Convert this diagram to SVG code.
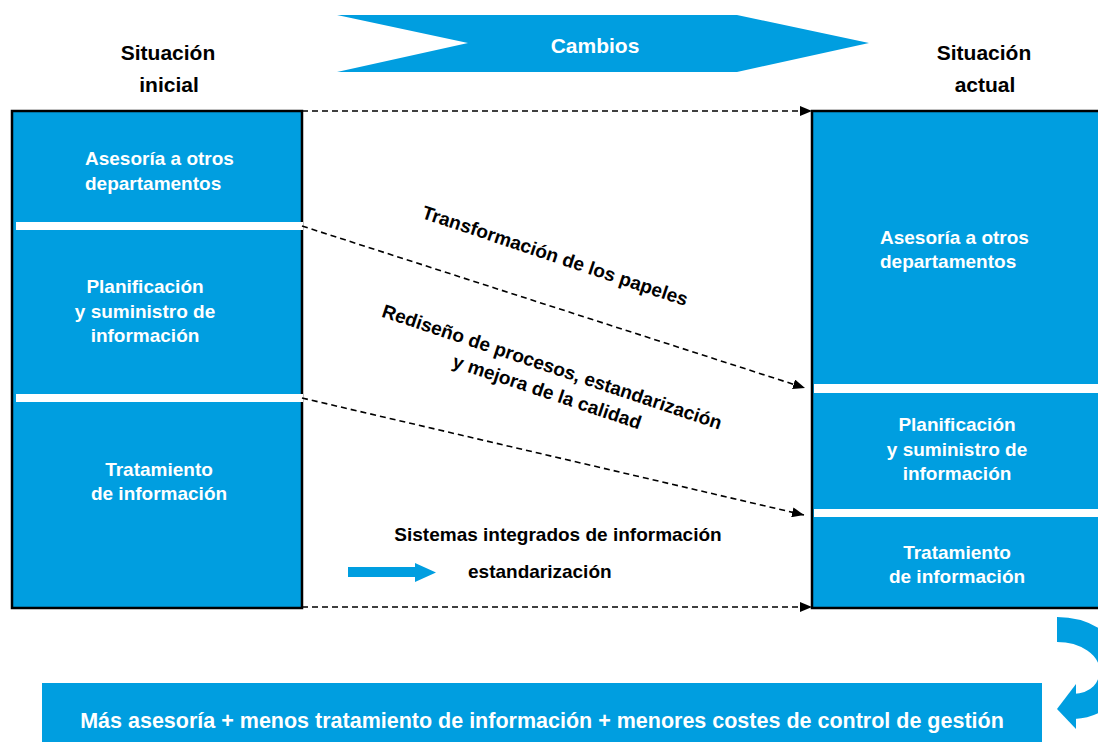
<svg xmlns="http://www.w3.org/2000/svg" width="1098" height="742" viewBox="0 0 1098 742">
<defs>
<style>
text{font-family:"Liberation Sans",Arial,sans-serif;font-weight:bold;}
.w{fill:#ffffff;font-size:19px;}
.k{fill:#000000;font-size:19px;}
.h{fill:#000000;font-size:21px;text-anchor:middle;}
.c{text-anchor:middle;}
.box{fill:#009EE0;stroke:#000000;stroke-width:2.5;}
.sep{fill:#ffffff;}
.dash{fill:none;stroke:#000000;stroke-width:1.6;stroke-dasharray:6 4;marker-end:url(#ah);}
.blue{fill:#009EE0;}
</style>
<marker id="ah" viewBox="0 0 12 10" refX="12" refY="5" markerWidth="12" markerHeight="10" markerUnits="userSpaceOnUse" orient="auto">
<path d="M0,0 L12,5 L0,10 Z" fill="#000000"/>
</marker>
</defs>
<rect width="1098" height="742" fill="#ffffff"/>

<g id="cambios">
<polygon class="blue" points="337,15 737,15 869,43 737,72 337,72 468,43"/>
<text x="595" y="53" class="c" style="fill:#ffffff;font-size:21px;">Cambios</text>
</g>

<g id="titulo-inicial">
<text class="h" x="168" y="60">Situación</text>
<text class="h" x="169" y="92">inicial</text>
</g>
<g id="titulo-actual">
<text class="h" x="984" y="60">Situación</text>
<text class="h" x="985" y="92">actual</text>
</g>

<g id="situacion-inicial">
<rect class="box" x="12" y="111" width="290" height="497"/>
<rect class="sep" x="16" y="222" width="287" height="8"/>
<rect class="sep" x="16" y="394" width="287" height="8"/>
<text class="w" x="85" y="165">Asesoría a otros</text>
<text class="w" x="85" y="190">departamentos</text>
<text class="w c" x="145" y="293">Planificación</text>
<text class="w c" x="145" y="318">y suministro de</text>
<text class="w c" x="145" y="342">información</text>
<text class="w c" x="159" y="476">Tratamiento</text>
<text class="w c" x="159" y="500">de información</text>
</g>

<g id="situacion-actual">
<rect class="box" x="812" y="111" width="300" height="497"/>
<rect class="sep" x="814" y="384" width="290" height="9"/>
<rect class="sep" x="814" y="509" width="290" height="8"/>
<text class="w" x="880" y="244">Asesoría a otros</text>
<text class="w" x="880" y="268">departamentos</text>
<text class="w c" x="957" y="431">Planificación</text>
<text class="w c" x="957" y="456">y suministro de</text>
<text class="w c" x="957" y="480">información</text>
<text class="w c" x="957" y="559">Tratamiento</text>
<text class="w c" x="957" y="583">de información</text>
</g>

<g id="connectors">
<line class="dash" x1="302" y1="111" x2="812" y2="111"/>
<line class="dash" x1="302" y1="226" x2="805" y2="388"/>
<line class="dash" x1="302" y1="398" x2="804" y2="515"/>
<line class="dash" x1="302" y1="607" x2="812" y2="607"/>
</g>

<g id="label-transformacion">
<text class="k c" transform="translate(553,262) rotate(18.5)">Transformación de los papeles</text>
</g>
<g id="label-rediseno">
<text class="k c" transform="translate(550,373) rotate(18.5)">Rediseño de procesos, estandarización</text>
<text class="k c" transform="translate(545,398) rotate(18.5)">y mejora de la calidad</text>
</g>

<g id="leyenda">
<text class="k c" x="558" y="541">Sistemas integrados de información</text>
<polygon class="blue" points="348,567 415,567 415,563 436,572.5 415,582 415,577 348,577"/>
<text class="k" x="468" y="578">estandarización</text>
</g>

<g id="flecha-curva">
<path d="M1057,629.5 C1085,629.5 1110,645 1112,668 C1113,690 1098,705 1074,706.5" fill="none" stroke="#009EE0" stroke-width="25"/>
<polygon class="blue" points="1076,684 1057,709 1076,729"/>
</g>

<g id="resultado">
<rect class="blue" x="42" y="683" width="1000" height="59"/>
<text x="542" y="728" class="c" style="fill:#ffffff;font-size:21.5px;">Más asesoría + menos tratamiento de información + menores costes de control de gestión</text>
</g>
</svg>
